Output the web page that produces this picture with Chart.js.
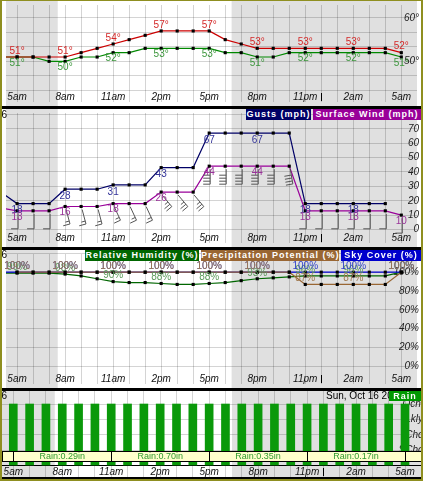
<!DOCTYPE html>
<html lang="en">
<head>
<meta charset="UTF-8">
<title>Hourly Weather Graph</title>
<style>
  body { margin: 0; font-family: Arial, "Liberation Sans", sans-serif; }
  #frame { position: relative; width: 423px; height: 481px; background: #8f8f20; overflow: hidden; }
  canvas { position: absolute; left: 2px; background: #fff; }
  .sep { position: absolute; left: 2px; width: 419px; background: #000; }
  .legend { position: absolute; height: 11px; line-height: 11px; font-size: 9px; font-weight: bold;
            letter-spacing: 1px; color: #fff; text-align: center; white-space: nowrap; overflow: hidden; }
  .tag { position: absolute; font-size: 10px; line-height: 10px; color: #000; white-space: nowrap; }
</style>
</head>
<body>
<div id="frame">
  <canvas id="tempChart" width="419" height="105" style="top:1px"></canvas>
  <div class="sep" style="top:106px;height:3px"></div>
  <canvas id="windChart" width="419" height="138" style="top:109px"></canvas>
  <div class="sep" style="top:247px;height:3px"></div>
  <canvas id="humChart" width="419" height="138" style="top:250px"></canvas>
  <div class="sep" style="top:388px;height:3px"></div>
  <canvas id="rainChart" width="419" height="86" style="top:391px"></canvas>
  <div class="sep" style="top:477px;height:2px"></div>

  <div class="tag" style="left:0;width:7px;text-align:right;top:110px">6</div>
  <div class="tag" style="left:0;width:7px;text-align:right;top:250px">6</div>
  <div class="tag" style="left:0;width:7px;text-align:right;top:391px">6</div>
  <div class="tag" style="left:326px;top:391px">Sun, Oct 16 2016</div>

  <div class="legend" style="left:246px;top:109px;width:65px;background:#000066">Gusts (mph)</div>
  <div class="legend" style="left:313px;top:109px;width:108px;background:#990099">Surface Wind (mph)</div>
  <div class="legend" style="left:85px;top:250px;width:114px;background:#006600">Relative Humidity (%)</div>
  <div class="legend" style="left:201px;top:250px;width:138px;background:#996633">Precipitation Potential (%)</div>
  <div class="legend" style="left:341px;top:250px;width:80px;background:#0000cc">Sky Cover (%)</div>
  <div class="legend" style="left:389px;top:391px;width:32px;height:10px;line-height:10px;background:#009900">Rain</div>
</div>

<script src="https://cdn.jsdelivr.net/npm/chart.js"></script>
<script>
  // hours after 5am (the first one is 4am, just off the left edge)
  const hours = [-1, 0, 1, 2, 3, 4, 5, 6, 7, 8, 9, 10, 11, 12, 13, 14, 15, 16, 17, 18, 19, 20, 21, 22, 23, 24];
  const timeLabels = ['5am', '8am', '11am', '2pm', '5pm', '8pm', '11pm', '2am', '5am'];
  const nightBands = [[-2, 2.54], [13.4, 26]];
  const midnightHour = 19;

  const temperature = [51, 51, 51, 51, 51, 52, 53, 54, 55, 56, 57, 57, 57, 57, 55, 54, 53, 53, 53, 53, 53, 53, 53, 53, 53, 52];
  const dewPoint    = [51, 51, 51, 50, 50, 51, 51, 52, 52, 53, 53, 53, 53, 53, 52, 52, 51, 51, 52, 52, 52, 52, 52, 52, 52, 51];
  const tempTicks = [43.33, 46.67, 50, 53.33, 56.67, 60];
  const tempLabels = [50, 60];

  const gusts     = [26, 18, 18, 18, 28, 28, 28, 31, 31, 31, 43, 43, 43, 67, 67, 67, 67, 67, 67, 18, 18, 18, 18, 18, 18, null];
  const windSpeed = [15, 13, 13, 13, 16, 16, 16, 18, 18, 18, 26, 26, 26, 44, 44, 44, 44, 44, 44, 13, 13, 13, 13, 13, 13, 10];
  const windDir   = [180, 180, 180, 180, 165, 165, 165, 155, 155, 155, 140, 140, 140, 180, 180, 180, 180, 180, 170, 180, 180, 180, 180, 180, 180, 180];
  const windTicks = [0, 10, 20, 30, 40, 50, 60, 70, 80];

  const humidity = [99, 99, 99, 99, 98, 96, 93, 90, 89, 89, 88, 87, 87, 88, 89, 91, 93, 94, 95, 96, 96, 96, 96, 96, 96, 100];
  const precipPot = [null, 100, 100, 100, 100, 100, 100, 100, 100, 100, 100, 100, 100, 100, 100, 100, 100, 100, 100, 87, 87, 87, 87, 87, 87, 100];
  const skyCover = [100, 100, 100, 100, 100, 100, 100, 100, 100, 100, 100, 100, 100, 100, 100, 100, 100, 100, 100, 100, 100, 100, 100, 100, 100, 100];
  const pctTicks = [0, 20, 40, 60, 80, 100, 120];

  const rainLevels = ['', 'SChc', 'Chc', 'Lkly', 'Ocnl'];
  const rain = ['Ocnl', 'Ocnl', 'Ocnl', 'Ocnl', 'Ocnl', 'Ocnl', 'Ocnl', 'Ocnl', 'Ocnl', 'Ocnl', 'Ocnl', 'Ocnl', 'Ocnl',
                'Ocnl', 'Ocnl', 'Ocnl', 'Ocnl', 'Ocnl', 'Ocnl', 'Ocnl', 'Ocnl', 'Ocnl', 'Ocnl', 'Ocnl', 'Ocnl', 'Ocnl'];
  // 6-hour rain totals (inches), by period start hour
  const qpfStart = [-6, 0, 6, 12, 18, 24];
  const qpf = [null, 0.29, 0.70, 0.35, 0.17, null];

  const FONT = 'Arial, "Liberation Sans", sans-serif';
  const GRID = 'rgba(0,0,0,0.17)';
  const tickFont = { family: FONT, size: 10, style: 'italic', lineHeight: 1 };

  // grey night shading, across the whole panel
  const nightShade = {
    id: 'nightShade',
    beforeDraw(chart) {
      const x = chart.scales.x, a = chart.chartArea, ctx = chart.ctx;
      ctx.save();
      ctx.fillStyle = '#e0e0e0';
      nightBands.forEach(([s, e]) => {
        const x0 = Math.max(a.left, x.getPixelForValue(s));
        const x1 = Math.min(a.right, x.getPixelForValue(e));
        ctx.fillRect(x0, 0, x1 - x0, chart.height);
      });
      ctx.restore();
    },
    afterDraw(chart) {
      const px = chart.scales.x.getPixelForValue(midnightHour), b = chart.chartArea.bottom;
      const ctx = chart.ctx;
      ctx.save();
      ctx.strokeStyle = '#000';
      ctx.lineWidth = 1;
      ctx.beginPath();
      ctx.moveTo(Math.round(px) + 0.5, b - 9);
      ctx.lineTo(Math.round(px) + 0.5, b - 1);
      ctx.stroke();
      ctx.restore();
    }
  };

  // values written next to every third point
  const pointLabels = {
    id: 'pointLabels',
    afterDatasetsDraw(chart) {
      const ctx = chart.ctx;
      chart.data.datasets.forEach((ds, di) => {
        if (!ds.valueLabel) return;
        const meta = chart.getDatasetMeta(di);
        ctx.save();
        ctx.font = '10px ' + FONT;
        ctx.fillStyle = ds.valueLabel.color;
        ctx.textAlign = 'center';
        ctx.textBaseline = 'middle';
        meta.data.forEach((pt, i) => {
          const v = ds.data[i].y;
          if (hours[i] < 0 || hours[i] % 3 !== 0 || v == null) return;
          ctx.fillText(v + ds.valueLabel.suffix, pt.x, pt.y + ds.valueLabel.dy);
        });
        ctx.restore();
      });
    }
  };

  const windBarbs = {
    id: 'windBarbs',
    afterDatasetsDraw(chart) {
      const meta = chart.getDatasetMeta(1), ctx = chart.ctx;
      ctx.save();
      ctx.strokeStyle = '#555';
      ctx.lineWidth = 1;
      meta.data.forEach((pt, i) => {
        if (hours[i] < 0 || windSpeed[i] == null) return;
        const a = windDir[i] * Math.PI / 180;
        const dx = Math.sin(a), dy = -Math.cos(a);
        const bx = -dy, by = dx;
        const sx = pt.x + 1, sy = pt.y + 3;
        const ex = sx + dx * 15, ey = sy + dy * 15;
        ctx.beginPath();
        ctx.moveTo(sx, sy);
        ctx.lineTo(ex, ey);
        let kt = Math.round(windSpeed[i] * 0.869 / 5) * 5;
        let k = 0;
        const barb = len => {
          const qx = ex - dx * 3 * k, qy = ey - dy * 3 * k;
          ctx.moveTo(qx, qy);
          ctx.lineTo(qx + bx * len, qy + by * len);
          k++;
        };
        while (kt >= 10) { barb(7); kt -= 10; }
        if (kt >= 5) barb(4);
        ctx.stroke();
      });
      ctx.restore();
    }
  };

  const rainBand = {
    id: 'rainBand',
    afterDatasetsDraw(chart) {
      const x = chart.scales.x, a = chart.chartArea, ctx = chart.ctx;
      ctx.save();
      ctx.font = '9px ' + FONT;
      ctx.textAlign = 'center';
      ctx.textBaseline = 'middle';
      qpfStart.forEach((s, i) => {
        const x0 = Math.max(a.left, x.getPixelForValue(s));
        const x1 = Math.min(a.right, x.getPixelForValue(s + 6));
        if (x1 <= x0) return;
        ctx.fillStyle = '#ffffcc';
        ctx.fillRect(x0, 61, x1 - x0, 9);
        ctx.strokeStyle = '#000';
        ctx.lineWidth = 1;
        ctx.strokeRect(Math.round(x0) + 0.5, 60.5, Math.round(x1 - x0), 10);
        if (qpf[i] != null) {
          ctx.fillStyle = '#2f9a2f';
          ctx.fillText('Rain:' + qpf[i].toFixed(2) + 'in', (x0 + x1) / 2, 66);
        }
      });
      ctx.restore();
    }
  };

  function noPad(s) {
    s.paddingLeft = 0; s.paddingRight = 0; s.paddingTop = 0; s.paddingBottom = 0;
  }

  function xScale() {
    return {
      type: 'linear', position: 'bottom', min: -0.692, max: 24.98, offset: false,
      afterBuildTicks: s => { s.ticks = hours.filter(h => h >= 0).map(h => ({ value: h })); },
      afterFit: s => { s.height = 0; noPad(s); },
      grid: { color: GRID, drawTicks: false, offset: false },
      border: { display: false },
      ticks: {
        mirror: true, padding: 0, autoSkip: false, maxRotation: 0, color: '#111', font: tickFont,
        callback: v => (Number.isInteger(v) && v % 3 === 0) ? timeLabels[v / 3] : ''
      }
    };
  }

  function yScale(min, max, ticks, fmt, gridColor) {
    return {
      min, max, position: 'right',
      afterBuildTicks: s => { s.ticks = ticks.map(v => ({ value: v })); },
      afterFit: s => { s.width = 0; noPad(s); },
      grid: { color: gridColor || GRID, drawTicks: false },
      border: { display: false },
      ticks: { mirror: true, padding: 2, color: '#222', font: tickFont, callback: fmt }
    };
  }

  function series(label, values, color, valueLabel, order) {
    return {
      label, order: order || 0,
      data: hours.map((h, i) => ({ x: h, y: values[i] })),
      borderColor: color, borderWidth: 1.2, tension: 0,
      pointStyle: 'rect', pointRadius: 2.2, pointBackgroundColor: '#000', pointBorderWidth: 0,
      valueLabel
    };
  }

  function baseOptions(scales) {
    return {
      responsive: false, animation: false, events: [],
      layout: { padding: 0 },
      plugins: { legend: { display: false }, tooltip: { enabled: false } },
      scales
    };
  }

  window.onload = function() {
    new Chart(document.getElementById('tempChart'), {
      type: 'line',
      data: { datasets: [
        series('Temperature', temperature, '#cc0000', { color: '#d42828', dy: -6, suffix: '°' }),
        series('Dewpoint', dewPoint, '#008800', { color: '#3c963c', dy: 6, suffix: '°' })
      ] },
      options: baseOptions({
        x: xScale(),
        y: yScale(40.64, 62.98, tempTicks, v => (tempLabels.includes(v) ? v + '°' : ''))
      }),
      plugins: [nightShade, pointLabels]
    });

    new Chart(document.getElementById('windChart'), {
      type: 'line',
      data: { datasets: [
        series('Gusts (mph)', gusts, '#000066', { color: '#333399', dy: 7, suffix: '' }),
        series('Surface Wind (mph)', windSpeed, '#990099', { color: '#993399', dy: 6, suffix: '' })
      ] },
      options: baseOptions({
        x: xScale(),
        y: yScale(-9.36, 80.93, windTicks, v => (v <= 70 ? String(v) : ''))
      }),
      plugins: [nightShade, windBarbs, pointLabels]
    });

    new Chart(document.getElementById('humChart'), {
      type: 'line',
      data: { datasets: [
        series('Relative Humidity (%)', humidity, '#006600', { color: '#5a9a5a', dy: -6, suffix: '%' }, 2),
        series('Sky Cover (%)', skyCover, '#0000cc', { color: '#3344cc', dy: -6, suffix: '%' }, 1),
        series('Precipitation Potential (%)', precipPot, '#996633', { color: '#a07a50', dy: -6, suffix: '%' }, 0)
      ] },
      options: baseOptions({
        x: xScale(),
        y: yScale(-18.7, 119.3, pctTicks, v => (v <= 100 ? v + '%' : ''))
      }),
      plugins: [nightShade, pointLabels]
    });

    new Chart(document.getElementById('rainChart'), {
      type: 'bar',
      data: { datasets: [{
        label: 'Rain',
        data: hours.map((h, i) => ({ x: h, y: rainLevels.indexOf(rain[i]) })),
        backgroundColor: '#0a990a', borderWidth: 0, barThickness: 8
      }] },
      options: baseOptions({
        x: xScale(),
        y: yScale(-0.748, 4.846, [0, 1, 2, 3, 4], v => rainLevels[v] || '',
                  c => (c.tick && c.tick.value === 0 ? '#000' : GRID))
      }),
      plugins: [nightShade, rainBand]
    });
  };
</script>
</body>
</html>
